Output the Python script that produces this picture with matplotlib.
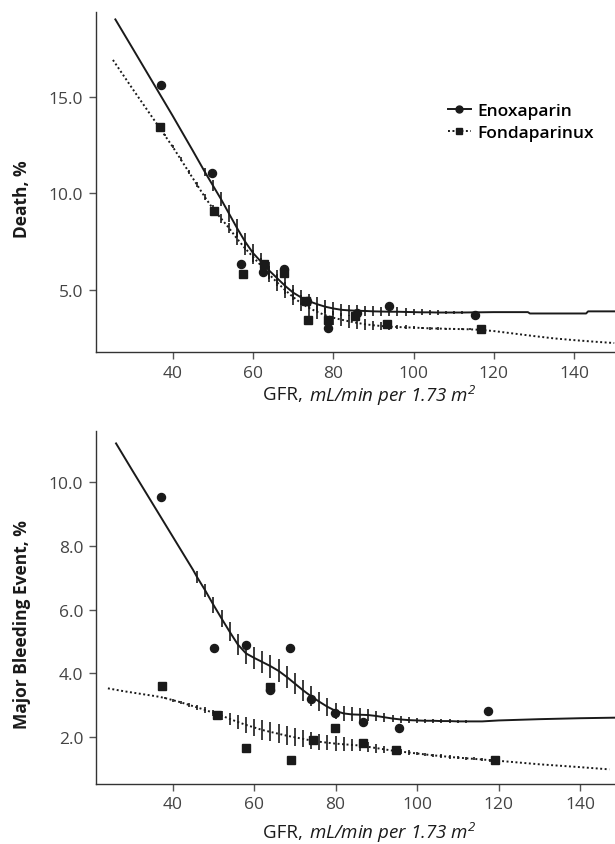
import matplotlib
matplotlib.use("Agg")
import matplotlib.pyplot as plt
import numpy as np

plt.rcParams['font.family'] = ['Open Sans', 'DejaVu Sans']
plt.rcParams['mathtext.fontset'] = 'custom'
plt.rcParams['mathtext.rm'] = 'Open Sans:italic'
plt.rcParams['mathtext.it'] = 'Open Sans:italic'

# ---- Death panel ----
death_enox_pts_x = [37.0, 49.8, 57.0, 62.6, 67.7, 73.5, 78.6, 85.8, 93.9, 115.3]
death_enox_pts_y = [15.6, 11.06, 6.31, 5.92, 6.09, 4.4, 3.0, 3.8, 4.15, 3.67]
death_fond_pts_x = [36.7, 50.2, 57.5, 62.7, 67.7, 73.3, 73.8, 78.7, 85.3, 93.4, 116.9]
death_fond_pts_y = [13.41, 9.08, 5.83, 6.35, 5.88, 4.42, 3.41, 3.41, 3.63, 3.2, 2.98]

death_enox_x = [25.7, 30, 35, 40, 45, 48, 50, 52, 54, 56, 58, 60, 62, 64, 66, 68, 70, 72, 74, 76,
                78, 80, 82, 84, 86, 88, 90, 92, 94, 96, 98, 100, 102, 104, 106, 108, 110, 112,
                116, 120, 124, 128.5, 129, 143, 143.5, 150]
death_enox_y = [19.0, 17.5, 15.75, 14.0, 12.2, 11.1, 10.4, 9.7, 8.95, 8.2, 7.5, 6.9, 6.45, 6.0, 5.6,
                5.2, 4.85, 4.6, 4.4, 4.25, 4.12, 4.03, 3.96, 3.93, 3.91, 3.9, 3.88, 3.87, 3.86, 3.86,
                3.85, 3.84, 3.83, 3.83, 3.82, 3.82, 3.82, 3.82, 3.83, 3.84, 3.84, 3.84, 3.77, 3.77,
                3.88, 3.88]
death_enox_ci = [0, 0, 0, 0, 0, 0.2, 0.3, 0.38, 0.42, 0.45, 0.45, 0.45, 0.45, 0.45, 0.43, 0.42, 0.4,
                 0.38, 0.36, 0.35, 0.34, 0.33, 0.32, 0.3, 0.28, 0.27, 0.26, 0.25, 0.24, 0.22, 0.2,
                 0.17, 0.15, 0.13, 0.12, 0.1, 0.08, 0.06, 0, 0, 0, 0, 0, 0, 0, 0]

death_fond_x = [25.1, 30, 35, 38, 40, 42, 44, 46, 48, 50, 52, 54, 56, 58, 60, 62, 64, 66, 68, 70,
                72, 74, 76, 78, 80, 82, 84, 86, 88, 90, 92, 94, 96, 98, 100, 102, 104, 106, 108,
                110, 112, 114, 116, 120, 125, 130, 135, 140, 145, 150]
death_fond_y = [16.9, 15.4, 13.9, 13.0, 12.4, 11.75, 11.1, 10.45, 9.8, 9.2, 8.7, 8.2, 7.65, 7.15,
                6.7, 6.25, 5.8, 5.38, 4.98, 4.62, 4.3, 4.05, 3.85, 3.68, 3.55, 3.45, 3.36, 3.28,
                3.21, 3.16, 3.12, 3.09, 3.07, 3.05, 3.04, 3.02, 3.0, 2.99, 2.98, 2.97, 2.96, 2.95,
                2.93, 2.86, 2.73, 2.6, 2.48, 2.39, 2.31, 2.24]
death_fond_ci = [0, 0, 0, 0.05, 0.08, 0.1, 0.12, 0.14, 0.17, 0.2, 0.24, 0.28, 0.32, 0.35, 0.38, 0.4,
                 0.42, 0.42, 0.42, 0.42, 0.41, 0.4, 0.39, 0.38, 0.37, 0.35, 0.33, 0.3, 0.27, 0.24,
                 0.2, 0.16, 0.12, 0.1, 0.08, 0.07, 0.07, 0.06, 0.06, 0.05, 0.05, 0.05, 0.05,
                 0, 0, 0, 0, 0, 0, 0]

# ---- Major bleeding panel ----
bleed_enox_pts_x = [37.2, 50.2, 57.9, 63.8, 68.9, 74.0, 79.8, 86.8, 95.6, 117.5]
bleed_enox_pts_y = [9.53, 4.8, 4.89, 3.46, 4.78, 3.17, 2.75, 2.46, 2.26, 2.81]
bleed_fond_pts_x = [37.5, 51.0, 58.0, 63.9, 69.0, 74.4, 79.8, 86.8, 94.9, 119.2]
bleed_fond_pts_y = [3.58, 2.69, 1.65, 3.55, 1.28, 1.88, 2.28, 1.79, 1.57, 1.28]

bleed_enox_x = [26.1, 30, 35, 40, 45, 46, 48, 50, 52, 54, 56, 58, 60, 62, 64, 66, 68, 70, 72, 74,
                76, 78, 80, 82, 84, 86, 88, 90, 92, 94, 96, 98, 100, 102, 104, 106, 108, 110, 112,
                116, 120, 130, 140, 150]
bleed_enox_y = [11.23, 10.4, 9.35, 8.3, 7.25, 7.02, 6.6, 6.15, 5.72, 5.3, 4.9, 4.62, 4.48, 4.35,
                4.22, 4.07, 3.88, 3.67, 3.46, 3.27, 3.1, 2.94, 2.81, 2.73, 2.7, 2.69, 2.68, 2.65,
                2.61, 2.57, 2.54, 2.52, 2.51, 2.5, 2.5, 2.49, 2.49, 2.48, 2.48, 2.48, 2.51, 2.55,
                2.58, 2.6]
bleed_enox_ci = [0, 0, 0, 0, 0, 0.18, 0.22, 0.25, 0.27, 0.3, 0.32, 0.34, 0.35, 0.36, 0.36, 0.36,
                 0.35, 0.34, 0.33, 0.32, 0.3, 0.28, 0.26, 0.24, 0.22, 0.2, 0.18, 0.16, 0.14, 0.12,
                 0.1, 0.09, 0.08, 0.07, 0.07, 0.06, 0.06, 0.05, 0.05, 0, 0, 0, 0, 0]

bleed_fond_x = [24.1, 28, 32, 36, 38, 40, 42, 44, 46, 48, 50, 52, 54, 56, 58, 60, 62, 64, 66, 68,
                70, 72, 74, 76, 78, 80, 82, 84, 86, 88, 90, 92, 94, 96, 98, 100, 102, 104, 106,
                108, 110, 112, 114, 116, 118, 120, 130, 140, 147.2]
bleed_fond_y = [3.52, 3.43, 3.35, 3.27, 3.22, 3.15, 3.08, 3.0, 2.92, 2.84, 2.75, 2.66, 2.56, 2.46,
                2.37, 2.29, 2.21, 2.15, 2.09, 2.03, 1.98, 1.93, 1.88, 1.84, 1.81, 1.78, 1.76, 1.74,
                1.72, 1.68, 1.64, 1.6, 1.56, 1.53, 1.5, 1.47, 1.44, 1.41, 1.39, 1.36, 1.34, 1.32,
                1.3, 1.28, 1.26, 1.24, 1.13, 1.04, 0.97]
bleed_fond_ci = [0, 0, 0, 0, 0.04, 0.05, 0.05, 0.06, 0.07, 0.08, 0.1, 0.14, 0.18, 0.22, 0.26, 0.28,
                 0.3, 0.3, 0.3, 0.29, 0.28, 0.27, 0.26, 0.25, 0.24, 0.23, 0.22, 0.2, 0.18, 0.16,
                 0.14, 0.12, 0.1, 0.08, 0.07, 0.06, 0.05, 0.05, 0.05, 0.05, 0.05, 0.05, 0.05, 0.05,
                 0.05, 0, 0, 0, 0]

xticks = [40, 60, 80, 100, 120, 140]
death_yticks = [5.0, 10.0, 15.0]
bleed_yticks = [2.0, 4.0, 6.0, 8.0, 10.0]

INK = '#1a1a1a'
GREY = '#444444'
DOT = (0, (1.0, 1.3))


def draw_ci(ax, x, y, ci):
    x, y, ci = np.array(x), np.array(y), np.array(ci)
    m = ci > 0
    ax.vlines(x[m], y[m] - ci[m], y[m] + ci[m], color=INK, lw=1.2)


def style(ax, yticks, ylabel, xlim, ylim):
    ax.set_xlim(*xlim)
    ax.set_ylim(*ylim)
    ax.set_xticks(xticks)
    ax.set_yticks(yticks)
    ax.set_yticklabels(['%.1f' % v for v in yticks])
    for s in ['top', 'right']:
        ax.spines[s].set_visible(False)
    for s in ['left', 'bottom']:
        ax.spines[s].set_color('#333333')
        ax.spines[s].set_linewidth(1.0)
    ax.tick_params(direction='out', length=5, width=1, colors='#555555',
                   labelcolor=GREY, labelsize=12.5, pad=4)
    ax.set_ylabel(ylabel, fontsize=12.5, fontweight='bold', color=INK)
    ax.yaxis.set_label_coords(-0.125, 0.453)


def gfr_label(y):
    fig.text(0.5, y, 'GFR, ', ha='right', va='center', fontsize=13.5, color=INK)
    fig.text(0.503, y, 'mL/min per 1.73 m$^2$', ha='left', va='center', fontsize=13.5,
             style='italic', color=INK)


fig = plt.figure(figsize=(6.15, 8.45), dpi=100)
ax1 = fig.add_axes([0.1556, 0.5819, 0.8444, 0.4031])
ax2 = fig.add_axes([0.1556, 0.0714, 0.8444, 0.4177])

# Death
ax1.plot(death_enox_x, death_enox_y, color=INK, lw=1.4)
ax1.plot(death_fond_x, death_fond_y, color=INK, lw=1.4, ls=DOT)
draw_ci(ax1, death_enox_x, death_enox_y, death_enox_ci)
draw_ci(ax1, death_fond_x, death_fond_y, death_fond_ci)
ax1.plot(death_enox_pts_x, death_enox_pts_y, 'o', color=INK, ms=5.8, ls='none')
ax1.plot(death_fond_pts_x, death_fond_pts_y, 's', color=INK, ms=5.8, ls='none')
style(ax1, death_yticks, 'Death, %', (20.8, 150.2), (1.76, 19.4))
gfr_label(0.532)

h1, = ax1.plot([], [], color=INK, lw=1.4, marker='o', ms=5)
h2, = ax1.plot([], [], color=INK, lw=1.4, ls=DOT, marker='s', ms=5)
ax1.legend([h1, h2], ['Enoxaparin', 'Fondaparinux'], loc='upper left',
           bbox_to_anchor=(0.662, 0.757), frameon=False, handlelength=1.3,
           handletextpad=0.4, labelspacing=0.3, borderpad=0,
           prop={'size': 12.5, 'weight': 'semibold'})

# Major bleeding
ax2.plot(bleed_enox_x, bleed_enox_y, color=INK, lw=1.4)
ax2.plot(bleed_fond_x, bleed_fond_y, color=INK, lw=1.4, ls=DOT)
draw_ci(ax2, bleed_enox_x, bleed_enox_y, bleed_enox_ci)
draw_ci(ax2, bleed_fond_x, bleed_fond_y, bleed_fond_ci)
ax2.plot(bleed_enox_pts_x, bleed_enox_pts_y, 'o', color=INK, ms=5.8, ls='none')
ax2.plot(bleed_fond_pts_x, bleed_fond_pts_y, 's', color=INK, ms=5.8, ls='none')
style(ax2, bleed_yticks, 'Major Bleeding Event, %', (21.1, 148.6), (0.52, 11.63))
gfr_label(0.014)

fig.savefig('out.png', dpi=100)
